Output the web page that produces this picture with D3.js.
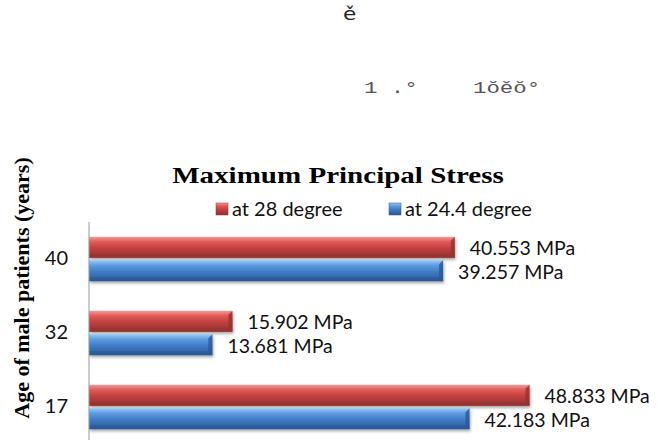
<!DOCTYPE html>
<html lang="en">
<head>
    <meta charset="UTF-8">
    <title>Maximum Principal Stress</title>
    <style>
        body { margin: 0; background: #fff; }
    </style>
</head>
<body>
<script src="https://d3js.org/d3.v7.min.js"></script>
<script>
    // chart values
    const ages = ["40", "32", "17"];
    const seriesNames = ["at 28 degree", "at 24.4 degree"];
    const stress28 = [40.553, 15.902, 48.833];
    const stress244 = [39.257, 13.681, 42.183];

    const width = 658;
    const height = 448;

    const svg = d3.select("body")
        .append("svg")
        .attr("width", width)
        .attr("height", height);

    // gradients for the bevelled bars
    const defs = svg.append("defs");
    const palettes = [
        ["#f49a98", "#e05856", "#c0403e", "#943230"],
        ["#9ccaf6", "#5c9be0", "#3f7cc6", "#2a5896"]
    ];
    palettes.forEach((p, i) => {
        const g = defs.append("linearGradient")
            .attr("id", "grad" + i)
            .attr("x1", 0).attr("y1", 0).attr("x2", 0).attr("y2", 1);
        g.append("stop").attr("offset", "0%").attr("stop-color", p[0]);
        g.append("stop").attr("offset", "25%").attr("stop-color", p[1]);
        g.append("stop").attr("offset", "55%").attr("stop-color", p[2]);
        g.append("stop").attr("offset", "100%").attr("stop-color", p[3]);
    });
    const shadow = defs.append("filter").attr("id", "shadow")
        .attr("x", "-5%").attr("y", "-20%").attr("width", "115%").attr("height", "160%");
    shadow.append("feDropShadow")
        .attr("dx", 1).attr("dy", 2).attr("stdDeviation", 1.5)
        .attr("flood-color", "#000").attr("flood-opacity", 0.35);

    // stray glyphs at the top (the source picture is stretched sideways)
    svg.append("text")
        .attr("transform", "translate(343,20) scale(1.2,1)")
        .attr("font-family", "DejaVu Sans").attr("font-size", 18)
        .attr("fill", "#222")
        .text("ě");
    svg.append("text")
        .attr("transform", "translate(364,93) scale(1.4,1)")
        .attr("font-family", "Liberation Mono").attr("font-size", 16)
        .attr("fill", "#555")
        .text("1 .°");
    svg.append("text")
        .attr("transform", "translate(473,93) scale(1.4,1)")
        .attr("font-family", "Liberation Mono").attr("font-size", 16)
        .attr("fill", "#555")
        .text("1ŏěŏ°");

    // plot area
    const plotLeft = 89, plotTop = 222, plotH = 222;
    const pxPerUnit = 9.02;

    const x = d3.scaleLinear()
        .domain([0, 60])
        .range([plotLeft, plotLeft + 60 * pxPerUnit]);

    const y = d3.scaleBand()
        .domain(ages)
        .range([plotTop, plotTop + plotH])
        .paddingInner(0.4)
        .paddingOuter(0.2);

    const ySub = d3.scaleBand()
        .domain([0, 1])
        .range([0, y.bandwidth()])
        .paddingInner(0.1);

    // title
    svg.append("text")
        .attr("transform", "translate(338,183) scale(1.21,1)")
        .attr("text-anchor", "middle")
        .attr("font-family", "Liberation Serif")
        .attr("font-weight", "bold")
        .attr("font-size", 24)
        .text("Maximum Principal Stress");

    // legend
    const legendX = [216, 389];
    seriesNames.forEach((name, i) => {
        svg.append("rect")
            .attr("x", legendX[i]).attr("y", 203)
            .attr("width", 12).attr("height", 12)
            .attr("fill", "url(#grad" + i + ")")
            .attr("stroke", palettes[i][3]).attr("stroke-width", 0.5);
        svg.append("text")
            .attr("x", legendX[i] + 16).attr("y", 216)
            .attr("font-family", "Lato").attr("font-size", 20)
            .attr("fill", "#111")
            .text(name);
    });

    // y axis title
    svg.append("text")
        .attr("transform", "translate(29,288) rotate(-90)")
        .attr("text-anchor", "middle")
        .attr("font-family", "Liberation Serif")
        .attr("font-weight", "bold")
        .attr("font-size", 22)
        .text("Age of male patients (years)");

    // bars
    const series = [stress28, stress244];
    series.forEach((vals, i) => {
        const g = svg.append("g");
        vals.forEach((v, j) => {
            const by = y(ages[j]) + ySub(i);
            const bh = ySub.bandwidth();
            const x0 = x(0), x1 = x(v);
            const bev = 4;
            g.append("rect")
                .attr("x", x0).attr("y", by)
                .attr("width", x1 - x0).attr("height", bh)
                .attr("fill", "url(#grad" + i + ")")
                .attr("filter", "url(#shadow)");
            // bevel at the right end
            g.append("path")
                .attr("d", `M${x1 - bev},${by + bev}L${x1},${by}L${x1},${by + bh}L${x1 - bev},${by + bh - bev}Z`)
                .attr("fill", palettes[i][3])
                .attr("opacity", 0.8);
            g.append("path")
                .attr("d", `M${x0},${by + bh}L${x1},${by + bh}L${x1 - bev},${by + bh - bev}L${x0},${by + bh - bev}Z`)
                .attr("fill", palettes[i][3])
                .attr("opacity", 0.5);
            g.append("text")
                .attr("x", x1 + 15)
                .attr("y", by + bh / 2 + 1)
                .attr("dy", "0.36em")
                .attr("font-family", "Lato").attr("font-size", 19.5)
                .attr("fill", "#111")
                .text(v.toFixed(3) + " MPa");
        });
    });

    // category axis
    const axis = svg.append("g")
        .attr("transform", `translate(${plotLeft},0)`)
        .call(d3.axisLeft(y).tickSize(0).tickPadding(21));
    axis.select(".domain")
        .attr("stroke", "#999")
        .attr("d", `M0,${plotTop}V${plotTop + plotH - 4}`);
    axis.selectAll("text")
        .attr("font-family", "Lato").attr("font-size", 20)
        .attr("fill", "#111");
</script>
</body>
</html>
